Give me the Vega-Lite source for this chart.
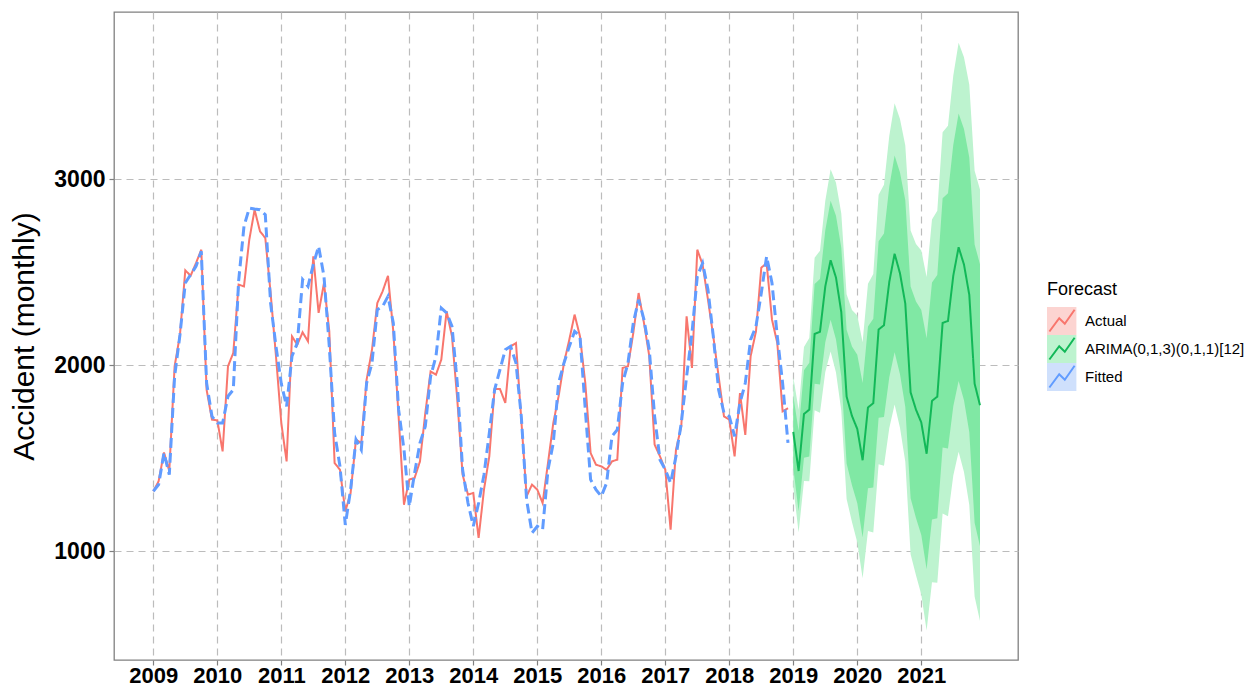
{
  "$schema": "https://vega.github.io/schema/vega-lite/v6.json",
  "autosize": {"type": "none"},
  "width": 904,
  "height": 648,
  "padding": {"left": 114, "top": 12, "right": 237, "bottom": 28},
  "background": "white",
  "config": {
    "font": "Liberation Sans",
    "view": {"stroke": "#808080", "strokeWidth": 1.3},
    "axis": {
      "grid": true, "gridColor": "#bcbcbc", "gridDash": [7, 5], "gridWidth": 1.2,
      "domain": false, "tickColor": "#808080", "tickSize": 5, "tickWidth": 1.2,
      "labelColor": "#000000", "labelFont": "Liberation Sans", "labelFontWeight": "bold", "labelFontSize": 23
    },
    "axisX": {"labelPadding": 0, "labelFontSize": 22},
    "axisY": {"labelPadding": 4, "titleFont": "Liberation Sans", "titleFontSize": 30, "titleFontWeight": "normal", "titleColor": "#000000", "titlePadding": 14}
  },
  "datasets": {
    "lines": [
      {"t":2009,"s":"Actual","v":1321},{"t":2009.083,"s":"Actual","v":1375},{"t":2009.167,"s":"Actual","v":1530},{"t":2009.25,"s":"Actual","v":1430},{"t":2009.333,"s":"Actual","v":1993},{"t":2009.417,"s":"Actual","v":2163},{"t":2009.5,"s":"Actual","v":2509},{"t":2009.583,"s":"Actual","v":2480},{"t":2009.667,"s":"Actual","v":2548},{"t":2009.75,"s":"Actual","v":2620},{"t":2009.833,"s":"Actual","v":1867},{"t":2009.917,"s":"Actual","v":1706},
      {"t":2010,"s":"Actual","v":1703},{"t":2010.083,"s":"Actual","v":1536},{"t":2010.167,"s":"Actual","v":1993},{"t":2010.25,"s":"Actual","v":2065},{"t":2010.333,"s":"Actual","v":2432},{"t":2010.417,"s":"Actual","v":2423},{"t":2010.5,"s":"Actual","v":2674},{"t":2010.583,"s":"Actual","v":2835},{"t":2010.667,"s":"Actual","v":2719},{"t":2010.75,"s":"Actual","v":2683},{"t":2010.833,"s":"Actual","v":2387},{"t":2010.917,"s":"Actual","v":2047},
      {"t":2011,"s":"Actual","v":1688},{"t":2011.083,"s":"Actual","v":1482},{"t":2011.167,"s":"Actual","v":2154},{"t":2011.25,"s":"Actual","v":2109},{"t":2011.333,"s":"Actual","v":2176},{"t":2011.417,"s":"Actual","v":2127},{"t":2011.5,"s":"Actual","v":2584},{"t":2011.583,"s":"Actual","v":2280},{"t":2011.667,"s":"Actual","v":2441},{"t":2011.75,"s":"Actual","v":2181},{"t":2011.833,"s":"Actual","v":1473},{"t":2011.917,"s":"Actual","v":1437},
      {"t":2012,"s":"Actual","v":1213},{"t":2012.083,"s":"Actual","v":1312},{"t":2012.167,"s":"Actual","v":1599},{"t":2012.25,"s":"Actual","v":1581},{"t":2012.333,"s":"Actual","v":1921},{"t":2012.417,"s":"Actual","v":2082},{"t":2012.5,"s":"Actual","v":2333},{"t":2012.583,"s":"Actual","v":2396},{"t":2012.667,"s":"Actual","v":2480},{"t":2012.75,"s":"Actual","v":2181},{"t":2012.833,"s":"Actual","v":1724},{"t":2012.917,"s":"Actual","v":1249},
      {"t":2013,"s":"Actual","v":1384},{"t":2013.083,"s":"Actual","v":1393},{"t":2013.167,"s":"Actual","v":1482},{"t":2013.25,"s":"Actual","v":1742},{"t":2013.333,"s":"Actual","v":1966},{"t":2013.417,"s":"Actual","v":1948},{"t":2013.5,"s":"Actual","v":2029},{"t":2013.583,"s":"Actual","v":2289},{"t":2013.667,"s":"Actual","v":2154},{"t":2013.75,"s":"Actual","v":1814},{"t":2013.833,"s":"Actual","v":1410},{"t":2013.917,"s":"Actual","v":1303},
      {"t":2014,"s":"Actual","v":1312},{"t":2014.083,"s":"Actual","v":1070},{"t":2014.167,"s":"Actual","v":1330},{"t":2014.25,"s":"Actual","v":1509},{"t":2014.333,"s":"Actual","v":1871},{"t":2014.417,"s":"Actual","v":1871},{"t":2014.5,"s":"Actual","v":1796},{"t":2014.583,"s":"Actual","v":2100},{"t":2014.667,"s":"Actual","v":2118},{"t":2014.75,"s":"Actual","v":1706},{"t":2014.833,"s":"Actual","v":1294},{"t":2014.917,"s":"Actual","v":1357},
      {"t":2015,"s":"Actual","v":1330},{"t":2015.083,"s":"Actual","v":1258},{"t":2015.167,"s":"Actual","v":1473},{"t":2015.25,"s":"Actual","v":1688},{"t":2015.333,"s":"Actual","v":1832},{"t":2015.417,"s":"Actual","v":2011},{"t":2015.5,"s":"Actual","v":2136},{"t":2015.583,"s":"Actual","v":2271},{"t":2015.667,"s":"Actual","v":2154},{"t":2015.75,"s":"Actual","v":1903},{"t":2015.833,"s":"Actual","v":1527},{"t":2015.917,"s":"Actual","v":1464},
      {"t":2016,"s":"Actual","v":1455},{"t":2016.083,"s":"Actual","v":1437},{"t":2016.167,"s":"Actual","v":1482},{"t":2016.25,"s":"Actual","v":1491},{"t":2016.333,"s":"Actual","v":1984},{"t":2016.417,"s":"Actual","v":1993},{"t":2016.5,"s":"Actual","v":2172},{"t":2016.583,"s":"Actual","v":2387},{"t":2016.667,"s":"Actual","v":2226},{"t":2016.75,"s":"Actual","v":2047},{"t":2016.833,"s":"Actual","v":1572},{"t":2016.917,"s":"Actual","v":1509},
      {"t":2017,"s":"Actual","v":1437},{"t":2017.083,"s":"Actual","v":1115},{"t":2017.167,"s":"Actual","v":1545},{"t":2017.25,"s":"Actual","v":1670},{"t":2017.333,"s":"Actual","v":2262},{"t":2017.417,"s":"Actual","v":1984},{"t":2017.5,"s":"Actual","v":2620},{"t":2017.583,"s":"Actual","v":2540},{"t":2017.667,"s":"Actual","v":2351},{"t":2017.75,"s":"Actual","v":2154},{"t":2017.833,"s":"Actual","v":1939},{"t":2017.917,"s":"Actual","v":1724},
      {"t":2018,"s":"Actual","v":1706},{"t":2018.083,"s":"Actual","v":1509},{"t":2018.167,"s":"Actual","v":1849},{"t":2018.25,"s":"Actual","v":1624},{"t":2018.333,"s":"Actual","v":2047},{"t":2018.417,"s":"Actual","v":2181},{"t":2018.5,"s":"Actual","v":2523},{"t":2018.583,"s":"Actual","v":2548},{"t":2018.667,"s":"Actual","v":2244},{"t":2018.75,"s":"Actual","v":2118},{"t":2018.833,"s":"Actual","v":1751},{"t":2018.917,"s":"Actual","v":1768},
      {"t":2019,"s":"ARIMA(0,1,3)(0,1,1)[12]","v":1640},{"t":2019.083,"s":"ARIMA(0,1,3)(0,1,1)[12]","v":1430},{"t":2019.167,"s":"ARIMA(0,1,3)(0,1,1)[12]","v":1737},{"t":2019.25,"s":"ARIMA(0,1,3)(0,1,1)[12]","v":1760},{"t":2019.333,"s":"ARIMA(0,1,3)(0,1,1)[12]","v":2167},{"t":2019.417,"s":"ARIMA(0,1,3)(0,1,1)[12]","v":2179},{"t":2019.5,"s":"ARIMA(0,1,3)(0,1,1)[12]","v":2423},{"t":2019.583,"s":"ARIMA(0,1,3)(0,1,1)[12]","v":2563},{"t":2019.667,"s":"ARIMA(0,1,3)(0,1,1)[12]","v":2470},{"t":2019.75,"s":"ARIMA(0,1,3)(0,1,1)[12]","v":2284},{"t":2019.833,"s":"ARIMA(0,1,3)(0,1,1)[12]","v":1830},{"t":2019.917,"s":"ARIMA(0,1,3)(0,1,1)[12]","v":1726},
      {"t":2020,"s":"ARIMA(0,1,3)(0,1,1)[12]","v":1656},{"t":2020.083,"s":"ARIMA(0,1,3)(0,1,1)[12]","v":1488},{"t":2020.167,"s":"ARIMA(0,1,3)(0,1,1)[12]","v":1772},{"t":2020.25,"s":"ARIMA(0,1,3)(0,1,1)[12]","v":1795},{"t":2020.333,"s":"ARIMA(0,1,3)(0,1,1)[12]","v":2191},{"t":2020.417,"s":"ARIMA(0,1,3)(0,1,1)[12]","v":2214},{"t":2020.5,"s":"ARIMA(0,1,3)(0,1,1)[12]","v":2447},{"t":2020.583,"s":"ARIMA(0,1,3)(0,1,1)[12]","v":2598},{"t":2020.667,"s":"ARIMA(0,1,3)(0,1,1)[12]","v":2493},{"t":2020.75,"s":"ARIMA(0,1,3)(0,1,1)[12]","v":2330},{"t":2020.833,"s":"ARIMA(0,1,3)(0,1,1)[12]","v":1853},{"t":2020.917,"s":"ARIMA(0,1,3)(0,1,1)[12]","v":1760},
      {"t":2021,"s":"ARIMA(0,1,3)(0,1,1)[12]","v":1691},{"t":2021.083,"s":"ARIMA(0,1,3)(0,1,1)[12]","v":1523},{"t":2021.167,"s":"ARIMA(0,1,3)(0,1,1)[12]","v":1807},{"t":2021.25,"s":"ARIMA(0,1,3)(0,1,1)[12]","v":1830},{"t":2021.333,"s":"ARIMA(0,1,3)(0,1,1)[12]","v":2226},{"t":2021.417,"s":"ARIMA(0,1,3)(0,1,1)[12]","v":2237},{"t":2021.5,"s":"ARIMA(0,1,3)(0,1,1)[12]","v":2481},{"t":2021.583,"s":"ARIMA(0,1,3)(0,1,1)[12]","v":2633},{"t":2021.667,"s":"ARIMA(0,1,3)(0,1,1)[12]","v":2540},{"t":2021.75,"s":"ARIMA(0,1,3)(0,1,1)[12]","v":2377},{"t":2021.833,"s":"ARIMA(0,1,3)(0,1,1)[12]","v":1900},{"t":2021.917,"s":"ARIMA(0,1,3)(0,1,1)[12]","v":1784},
      {"t":2009,"s":"Fitted","v":1321},{"t":2009.083,"s":"Fitted","v":1357},{"t":2009.167,"s":"Fitted","v":1527},{"t":2009.25,"s":"Fitted","v":1410},{"t":2009.333,"s":"Fitted","v":1939},{"t":2009.417,"s":"Fitted","v":2163},{"t":2009.5,"s":"Fitted","v":2441},{"t":2009.583,"s":"Fitted","v":2486},{"t":2009.667,"s":"Fitted","v":2530},{"t":2009.75,"s":"Fitted","v":2611},{"t":2009.833,"s":"Fitted","v":1903},{"t":2009.917,"s":"Fitted","v":1724},
      {"t":2010,"s":"Fitted","v":1688},{"t":2010.083,"s":"Fitted","v":1688},{"t":2010.167,"s":"Fitted","v":1832},{"t":2010.25,"s":"Fitted","v":1867},{"t":2010.333,"s":"Fitted","v":2450},{"t":2010.417,"s":"Fitted","v":2746},{"t":2010.5,"s":"Fitted","v":2844},{"t":2010.583,"s":"Fitted","v":2839},{"t":2010.667,"s":"Fitted","v":2835},{"t":2010.75,"s":"Fitted","v":2808},{"t":2010.833,"s":"Fitted","v":2333},{"t":2010.917,"s":"Fitted","v":2100},
      {"t":2011,"s":"Fitted","v":1900},{"t":2011.083,"s":"Fitted","v":1778},{"t":2011.167,"s":"Fitted","v":2047},{"t":2011.25,"s":"Fitted","v":2118},{"t":2011.333,"s":"Fitted","v":2459},{"t":2011.417,"s":"Fitted","v":2423},{"t":2011.5,"s":"Fitted","v":2540},{"t":2011.583,"s":"Fitted","v":2638},{"t":2011.667,"s":"Fitted","v":2477},{"t":2011.75,"s":"Fitted","v":2100},{"t":2011.833,"s":"Fitted","v":1634},{"t":2011.917,"s":"Fitted","v":1455},
      {"t":2012,"s":"Fitted","v":1140},{"t":2012.083,"s":"Fitted","v":1330},{"t":2012.167,"s":"Fitted","v":1599},{"t":2012.25,"s":"Fitted","v":1545},{"t":2012.333,"s":"Fitted","v":1903},{"t":2012.417,"s":"Fitted","v":2011},{"t":2012.5,"s":"Fitted","v":2298},{"t":2012.583,"s":"Fitted","v":2315},{"t":2012.667,"s":"Fitted","v":2369},{"t":2012.75,"s":"Fitted","v":2226},{"t":2012.833,"s":"Fitted","v":1760},{"t":2012.917,"s":"Fitted","v":1545},
      {"t":2013,"s":"Fitted","v":1240},{"t":2013.083,"s":"Fitted","v":1420},{"t":2013.167,"s":"Fitted","v":1581},{"t":2013.25,"s":"Fitted","v":1670},{"t":2013.333,"s":"Fitted","v":1939},{"t":2013.417,"s":"Fitted","v":2047},{"t":2013.5,"s":"Fitted","v":2306},{"t":2013.583,"s":"Fitted","v":2280},{"t":2013.667,"s":"Fitted","v":2208},{"t":2013.75,"s":"Fitted","v":1903},{"t":2013.833,"s":"Fitted","v":1437},{"t":2013.917,"s":"Fitted","v":1258},
      {"t":2014,"s":"Fitted","v":1133},{"t":2014.083,"s":"Fitted","v":1258},{"t":2014.167,"s":"Fitted","v":1410},{"t":2014.25,"s":"Fitted","v":1634},{"t":2014.333,"s":"Fitted","v":1867},{"t":2014.417,"s":"Fitted","v":1975},{"t":2014.5,"s":"Fitted","v":2082},{"t":2014.583,"s":"Fitted","v":2100},{"t":2014.667,"s":"Fitted","v":2011},{"t":2014.75,"s":"Fitted","v":1724},{"t":2014.833,"s":"Fitted","v":1276},{"t":2014.917,"s":"Fitted","v":1097},
      {"t":2015,"s":"Fitted","v":1133},{"t":2015.083,"s":"Fitted","v":1115},{"t":2015.167,"s":"Fitted","v":1437},{"t":2015.25,"s":"Fitted","v":1581},{"t":2015.333,"s":"Fitted","v":1903},{"t":2015.417,"s":"Fitted","v":2011},{"t":2015.5,"s":"Fitted","v":2100},{"t":2015.583,"s":"Fitted","v":2181},{"t":2015.667,"s":"Fitted","v":2154},{"t":2015.75,"s":"Fitted","v":1760},{"t":2015.833,"s":"Fitted","v":1384},{"t":2015.917,"s":"Fitted","v":1330},
      {"t":2016,"s":"Fitted","v":1294},{"t":2016.083,"s":"Fitted","v":1366},{"t":2016.167,"s":"Fitted","v":1617},{"t":2016.25,"s":"Fitted","v":1652},{"t":2016.333,"s":"Fitted","v":1903},{"t":2016.417,"s":"Fitted","v":2011},{"t":2016.5,"s":"Fitted","v":2226},{"t":2016.583,"s":"Fitted","v":2351},{"t":2016.667,"s":"Fitted","v":2244},{"t":2016.75,"s":"Fitted","v":2082},{"t":2016.833,"s":"Fitted","v":1724},{"t":2016.917,"s":"Fitted","v":1491},
      {"t":2017,"s":"Fitted","v":1437},{"t":2017.083,"s":"Fitted","v":1366},{"t":2017.167,"s":"Fitted","v":1509},{"t":2017.25,"s":"Fitted","v":1688},{"t":2017.333,"s":"Fitted","v":1939},{"t":2017.417,"s":"Fitted","v":2172},{"t":2017.5,"s":"Fitted","v":2477},{"t":2017.583,"s":"Fitted","v":2548},{"t":2017.667,"s":"Fitted","v":2405},{"t":2017.75,"s":"Fitted","v":2154},{"t":2017.833,"s":"Fitted","v":1867},{"t":2017.917,"s":"Fitted","v":1742},
      {"t":2018,"s":"Fitted","v":1724},{"t":2018.083,"s":"Fitted","v":1617},{"t":2018.167,"s":"Fitted","v":1796},{"t":2018.25,"s":"Fitted","v":1903},{"t":2018.333,"s":"Fitted","v":2136},{"t":2018.417,"s":"Fitted","v":2208},{"t":2018.5,"s":"Fitted","v":2387},{"t":2018.583,"s":"Fitted","v":2584},{"t":2018.667,"s":"Fitted","v":2441},{"t":2018.75,"s":"Fitted","v":2154},{"t":2018.833,"s":"Fitted","v":1903},{"t":2018.917,"s":"Fitted","v":1581}
    ],
    "bands": [
      {"t":2019,"s":"ARIMA(0,1,3)(0,1,1)[12]","l95":1345,"l80":1447,"h80":1833,"h95":1935},
      {"t":2019.083,"s":"ARIMA(0,1,3)(0,1,1)[12]","l95":1100,"l80":1214,"h80":1646,"h95":1760},
      {"t":2019.167,"s":"ARIMA(0,1,3)(0,1,1)[12]","l95":1377,"l80":1502,"h80":1972,"h95":2097},
      {"t":2019.25,"s":"ARIMA(0,1,3)(0,1,1)[12]","l95":1375,"l80":1508,"h80":2012,"h95":2145},
      {"t":2019.333,"s":"ARIMA(0,1,3)(0,1,1)[12]","l95":1757,"l80":1899,"h80":2435,"h95":2577},
      {"t":2019.417,"s":"ARIMA(0,1,3)(0,1,1)[12]","l95":1744,"l80":1895,"h80":2463,"h95":2614},
      {"t":2019.5,"s":"ARIMA(0,1,3)(0,1,1)[12]","l95":1963,"l80":2122,"h80":2724,"h95":2883},
      {"t":2019.583,"s":"ARIMA(0,1,3)(0,1,1)[12]","l95":2073,"l80":2243,"h80":2883,"h95":3053},
      {"t":2019.667,"s":"ARIMA(0,1,3)(0,1,1)[12]","l95":1960,"l80":2137,"h80":2803,"h95":2980},
      {"t":2019.75,"s":"ARIMA(0,1,3)(0,1,1)[12]","l95":1754,"l80":1938,"h80":2630,"h95":2814},
      {"t":2019.833,"s":"ARIMA(0,1,3)(0,1,1)[12]","l95":1280,"l80":1471,"h80":2189,"h95":2380},
      {"t":2019.917,"s":"ARIMA(0,1,3)(0,1,1)[12]","l95":1156,"l80":1353,"h80":2099,"h95":2296},
      {"t":2020,"s":"ARIMA(0,1,3)(0,1,1)[12]","l95":1046,"l80":1257,"h80":2055,"h95":2266},
      {"t":2020.083,"s":"ARIMA(0,1,3)(0,1,1)[12]","l95":853,"l80":1073,"h80":1903,"h95":2123},
      {"t":2020.167,"s":"ARIMA(0,1,3)(0,1,1)[12]","l95":1107,"l80":1337,"h80":2207,"h95":2437},
      {"t":2020.25,"s":"ARIMA(0,1,3)(0,1,1)[12]","l95":1100,"l80":1341,"h80":2249,"h95":2490},
      {"t":2020.333,"s":"ARIMA(0,1,3)(0,1,1)[12]","l95":1466,"l80":1717,"h80":2665,"h95":2916},
      {"t":2020.417,"s":"ARIMA(0,1,3)(0,1,1)[12]","l95":1459,"l80":1721,"h80":2707,"h95":2969},
      {"t":2020.5,"s":"ARIMA(0,1,3)(0,1,1)[12]","l95":1662,"l80":1934,"h80":2960,"h95":3232},
      {"t":2020.583,"s":"ARIMA(0,1,3)(0,1,1)[12]","l95":1788,"l80":2069,"h80":3127,"h95":3408},
      {"t":2020.667,"s":"ARIMA(0,1,3)(0,1,1)[12]","l95":1663,"l80":1951,"h80":3035,"h95":3323},
      {"t":2020.75,"s":"ARIMA(0,1,3)(0,1,1)[12]","l95":1480,"l80":1774,"h80":2886,"h95":3180},
      {"t":2020.833,"s":"ARIMA(0,1,3)(0,1,1)[12]","l95":983,"l80":1284,"h80":2422,"h95":2723},
      {"t":2020.917,"s":"ARIMA(0,1,3)(0,1,1)[12]","l95":870,"l80":1178,"h80":2342,"h95":2650},
      {"t":2021,"s":"ARIMA(0,1,3)(0,1,1)[12]","l95":766,"l80":1086,"h80":2296,"h95":2616},
      {"t":2021.083,"s":"ARIMA(0,1,3)(0,1,1)[12]","l95":573,"l80":902,"h80":2144,"h95":2473},
      {"t":2021.167,"s":"ARIMA(0,1,3)(0,1,1)[12]","l95":832,"l80":1170,"h80":2444,"h95":2782},
      {"t":2021.25,"s":"ARIMA(0,1,3)(0,1,1)[12]","l95":830,"l80":1176,"h80":2484,"h95":2830},
      {"t":2021.333,"s":"ARIMA(0,1,3)(0,1,1)[12]","l95":1201,"l80":1556,"h80":2896,"h95":3251},
      {"t":2021.417,"s":"ARIMA(0,1,3)(0,1,1)[12]","l95":1187,"l80":1551,"h80":2923,"h95":3287},
      {"t":2021.5,"s":"ARIMA(0,1,3)(0,1,1)[12]","l95":1406,"l80":1778,"h80":3184,"h95":3556},
      {"t":2021.583,"s":"ARIMA(0,1,3)(0,1,1)[12]","l95":1533,"l80":1914,"h80":3352,"h95":3733},
      {"t":2021.667,"s":"ARIMA(0,1,3)(0,1,1)[12]","l95":1425,"l80":1811,"h80":3269,"h95":3655},
      {"t":2021.75,"s":"ARIMA(0,1,3)(0,1,1)[12]","l95":1247,"l80":1638,"h80":3116,"h95":3507},
      {"t":2021.833,"s":"ARIMA(0,1,3)(0,1,1)[12]","l95":755,"l80":1152,"h80":2648,"h95":3045},
      {"t":2021.917,"s":"ARIMA(0,1,3)(0,1,1)[12]","l95":624,"l80":1026,"h80":2542,"h95":2944}
    ]
  },
  "encoding": {
    "x": {
      "field": "t", "type": "quantitative",
      "scale": {"domain": [2008.386, 2022.511], "nice": false, "zero": false},
      "axis": {"values": [2009, 2010, 2011, 2012, 2013, 2014, 2015, 2016, 2017, 2018, 2019, 2020, 2021], "format": "d", "title": null}
    }
  },
  "layer": [
    {
      "data": {"name": "bands"},
      "mark": {"type": "area"},
      "encoding": {
        "y": {"field": "l95", "type": "quantitative", "title": "Accident (monthly)",
              "scale": {"domain": [414, 3898], "nice": false, "zero": false},
              "axis": {"values": [1000, 2000, 3000], "format": "d"}},
        "y2": {"field": "h95"},
        "fill": {
          "field": "s", "type": "nominal",
          "scale": {"domain": ["Actual", "ARIMA(0,1,3)(0,1,1)[12]", "Fitted"], "range": ["#fcd4d1", "#bdf3cf", "#cfe0fc"]},
          "legend": {
            "title": "Forecast", "orient": "none", "legendX": 933, "legendY": 269,
            "symbolType": "M-1.1,-1L1.1,-1L1.1,1L-1.1,1Z", "symbolSize": 784, "symbolStrokeWidth": 0, "symbolOpacity": 1,
            "clipHeight": 28, "rowPadding": 0, "labelFontSize": 15, "labelOffset": 10, "labelColor": "#000000",
            "labelFont": "Liberation Sans", "titleFont": "Liberation Sans",
            "titleFontSize": 18, "titleFontWeight": "normal", "titleColor": "#000000", "titlePadding": 8, "zindex": 0
          }
        }
      }
    },
    {
      "data": {"name": "bands"},
      "mark": {"type": "area", "fill": "#80e8a4"},
      "encoding": {
        "y": {"field": "l80", "type": "quantitative", "title": "Accident (monthly)",
              "scale": {"domain": [414, 3898], "nice": false, "zero": false},
              "axis": {"values": [1000, 2000, 3000], "format": "d"}},
        "y2": {"field": "h80"}
      }
    },
    {
      "data": {"name": "lines"},
      "mark": {"type": "line"},
      "encoding": {
        "y": {"field": "v", "type": "quantitative", "title": "Accident (monthly)",
              "scale": {"domain": [414, 3898], "nice": false, "zero": false},
              "axis": {"values": [1000, 2000, 3000], "format": "d"}},
        "stroke": {
          "field": "s", "type": "nominal",
          "sort": ["Actual", "ARIMA(0,1,3)(0,1,1)[12]", "Fitted"],
          "scale": {"range": ["#F8766D", "#12b858", "#619CFF"]},
          "legend": {
            "title": "Forecast", "orient": "none", "legendX": 933, "legendY": 269,
            "symbolType": "M-0.9,0.75L-0.2,-0.2L0.2,0.2L0.9,-0.8", "symbolSize": 784, "symbolStrokeWidth": 2,
            "symbolFillColor": "transparent", "symbolOpacity": 1,
            "clipHeight": 28, "rowPadding": 0, "labelFontSize": 15, "labelOffset": 10, "labelColor": "transparent",
            "labelFont": "Liberation Sans", "titleFont": "Liberation Sans",
            "titleFontSize": 18, "titleFontWeight": "normal", "titleColor": "transparent", "titlePadding": 8, "zindex": 1,
            "encode": {"symbols": {"update": {"stroke": {"signal": "datum.value === 'Actual' ? '#d4574f' : datum.value === 'Fitted' ? '#2f7fd2' : '#18b25c'"}}}}
          }
        },
        "strokeDash": {"condition": {"test": "datum.s === 'Fitted'", "value": [10, 5]}, "value": [1, 0]},
        "strokeWidth": {"condition": {"test": "datum.s === 'Fitted'", "value": 3}, "value": 2}
      }
    }
  ]
}
